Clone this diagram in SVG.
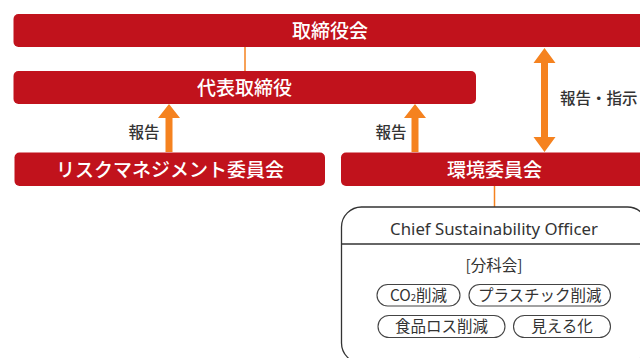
<svg xmlns="http://www.w3.org/2000/svg" width="640" height="358" viewBox="0 0 640 358">
<style>
.bar{fill:#C1121C;}
.bt{fill:#fff;font-family:"Noto Sans CJK JP","Noto Sans",sans-serif;font-size:19px;font-weight:500;text-anchor:middle;}
.lb{fill:#333;font-family:"Noto Sans CJK JP","Noto Sans",sans-serif;font-size:15.5px;font-weight:500;}
.ln{stroke:#F5821F;stroke-width:1.5;fill:none;}
.ar{fill:#F5821F;}
.box{fill:#fff;stroke:#333;stroke-width:1.3;}
.pill{fill:#fff;stroke:#444;stroke-width:1.1;}
.pt{fill:#333;font-family:"Noto Sans CJK JP","Noto Sans",sans-serif;font-size:15.5px;text-anchor:middle;}
.en{fill:#333;font-family:"Noto Sans","Open Sans",sans-serif;font-size:16.8px;text-anchor:middle;}
</style>
<rect width="640" height="358" fill="#fff"/>
<g id="connectors">
<line class="ln" x1="245" y1="47" x2="245" y2="71"/>
<line class="ln" x1="494.5" y1="186" x2="494.5" y2="207"/>
<polygon class="ar" points="169,104 180,118 172.5,118 172.5,152 165.5,152 165.5,118 158,118"/>
<polygon class="ar" points="415,104 426,118 418.5,118 418.5,152 411.5,152 411.5,118 404,118"/>
<polygon class="ar" points="544.5,48 555.5,63 548,63 548,137 555.5,137 544.5,152 533.5,137 541,137 541,63 533.5,63"/>
<text class="lb" x="144" y="137.5" text-anchor="middle">報告</text>
<text class="lb" x="391" y="137.5" text-anchor="middle">報告</text>
<text class="lb" x="560" y="103.5">報告・指示</text>
</g>
<g id="board">
<rect class="bar" x="13.5" y="14" width="634" height="33" rx="5"/>
<text class="bt" x="330" y="38">取締役会</text>
</g>
<g id="ceo">
<rect class="bar" x="13.5" y="71" width="462.5" height="33" rx="5"/>
<text class="bt" x="244.5" y="95">代表取締役</text>
</g>
<g id="risk">
<rect class="bar" x="14.5" y="152.5" width="310.5" height="33.5" rx="5"/>
<text class="bt" x="170" y="176.5">リスクマネジメント委員会</text>
</g>
<g id="env">
<rect class="bar" x="341" y="152.5" width="307" height="33.5" rx="5"/>
<text class="bt" x="494.5" y="176.5">環境委員会</text>
</g>
<g id="cso">
<rect class="box" x="341.5" y="207" width="306" height="156" rx="20"/>
<line x1="341.5" y1="244" x2="647.5" y2="244" stroke="#333" stroke-width="1.3"/>
<text class="en" x="494" y="235">Chief Sustainability Officer</text>
<text class="pt" x="494" y="271">[分科会]</text>
</g>
<g id="co2">
<rect class="pill" x="377" y="284.5" width="83" height="21.5" rx="10.75"/>
<text class="pt" x="418.5" y="301">CO<tspan font-size="9.5px">2</tspan>削減</text>
</g>
<g id="plastic">
<rect class="pill" x="469" y="284.5" width="141.5" height="21.5" rx="10.75"/>
<text class="pt" x="539.75" y="301">プラスチック削減</text>
</g>
<g id="food">
<rect class="pill" x="378" y="315.5" width="127" height="22" rx="11"/>
<text class="pt" x="441.5" y="332">食品ロス削減</text>
</g>
<g id="visual">
<rect class="pill" x="513.5" y="315.5" width="97" height="22" rx="11"/>
<text class="pt" x="562" y="332">見える化</text>
</g>
</svg>
